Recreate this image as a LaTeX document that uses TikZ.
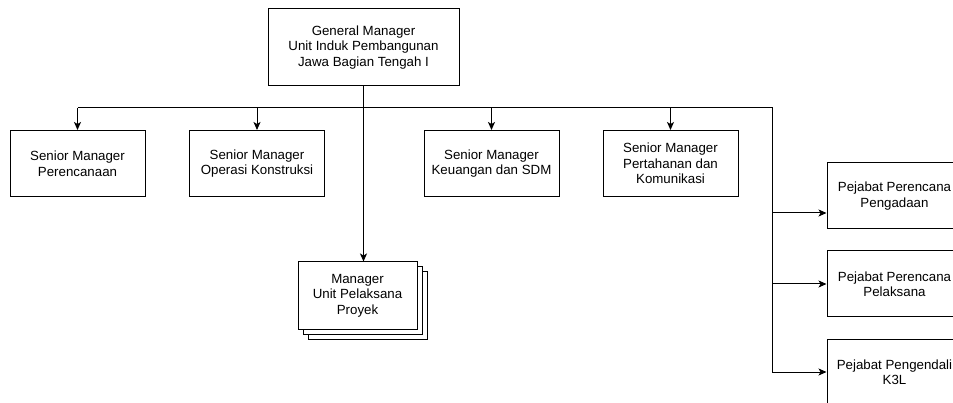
\documentclass[tikz,border=0pt]{standalone}
\usepackage{fontspec}
\setmainfont{Liberation Sans}
\usetikzlibrary{arrows.meta}

\begin{document}
\begin{tikzpicture}[x=1pt, y=-1pt, line width=1pt,
	box/.style={draw, fill=white, align=center, inner sep=2pt, font=\fontsize{13.3}{15.5}\selectfont},
	unit/.style={box, minimum width=135pt, minimum height=66pt},
	stack/.style={box, minimum width=119pt, minimum height=67pt},
	arrow/.style={-{Stealth[length=8pt, width=7pt, inset=2pt]}}]
		\useasboundingbox (0,0) rectangle (953,403);
		\clip (0,0) rectangle (953,403);
		% top
		\node[box, minimum width=191pt, minimum height=77pt] (gm) at (363.5,47.5) {General Manager\\Unit Induk Pembangunan\\Jawa Bagian Tengah I};
		% senior managers
		\node[unit] (smp) at (77.5,163.5) {Senior Manager\\Perencanaan};
		\node[unit] (smo) at (257,163.5) {Senior Manager\\Operasi Konstruksi};
		\node[unit] (smk) at (491.5,163.5) {Senior Manager\\Keuangan dan SDM};
		\node[unit] (smh) at (670.5,163.5) {Senior Manager\\Pertahanan dan\\Komunikasi};
		% unit pelaksana proyek (stacked)
		\node[stack] (upp3) at (367.5,305.5) {};
		\node[stack] (upp2) at (362.5,300.5) {};
		\node[stack] (upp) at (357.5,295.5) {Manager\\Unit Pelaksana\\Proyek};
		% pejabat
		\node[unit] (ppg) at (894.5,196) {Pejabat Perencana\\Pengadaan};
		\node[unit] (ppl) at (894.5,284) {Pejabat Perencana\\Pelaksana};
		\node[unit] (pk3) at (894.5,372) {Pejabat Pengendali\\K3L};
		% connectors
		\coordinate (busL) at (smp.north |- 0,108);
		\coordinate (busR) at (772,108);
		\coordinate (spine) at (busR |- pk3.west);
		\coordinate (ppgin) at ([yshift=-17pt]ppg.west);
		\draw[arrow] (gm.south) -- (gm.south |- upp.north);
		\draw (busL) -- (busR) -- (spine);
		\foreach \n in {smp,smo,smk,smh}
			\draw[arrow] (\n.north |- busL) -- (\n.north);
		\draw[arrow] (busR |- ppgin) -- (ppgin);
		\draw[arrow] (busR |- ppl.west) -- (ppl.west);
		\draw[arrow] (spine) -- (pk3.west);
\end{tikzpicture}
\end{document}
